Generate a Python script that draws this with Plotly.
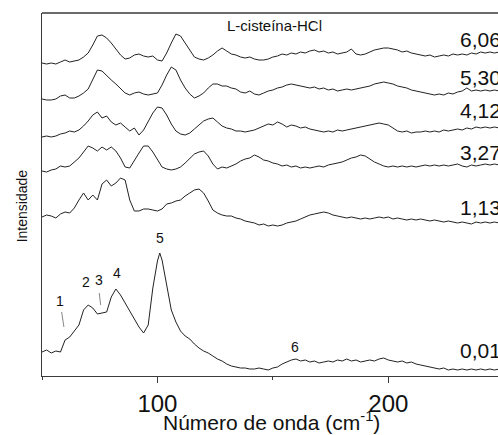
import plotly.graph_objects as go

# Raman shift grid (cm^-1), shared by all spectra
wavenumber = list(range(50, 250, 2))

# Pressure labels (GPa) of each stacked spectrum, top to bottom
pressures = ["6,06", "5,30", "4,12", "3,27", "1,13", "0,01"]
# Vertical offset used to stack the spectra (a.u.)
stack_offset = [312, 276, 239, 204, 150, 6]

int_606 = [1, 0, 1, 0, 2, 4, 2, 3, 4, 7,
           11, 19, 28, 29, 26, 21, 15, 9, 5, 6,
           9, 10, 8, 7, 8, 4, 3, 11, 21, 30,
           28, 21, 14, 7, 5, 4, 6, 9, 13, 16,
           13, 10, 9, 7, 6, 7, 5, 4, 4, 5,
           7, 8, 10, 9, 11, 10, 12, 11, 13, 14,
           12, 13, 11, 12, 10, 11, 12, 15, 10, 9,
           10, 12, 14, 15, 16, 16, 15, 14, 12, 13,
           11, 10, 9, 8, 9, 7, 8, 9, 8, 10,
           9, 10, 9, 11, 10, 12, 11, 12, 11, 12]

int_530 = [1, 0, 0, 1, 4, 5, 2, 2, 4, 7,
           11, 21, 30, 29, 24, 20, 16, 11, 7, 5,
           7, 8, 6, 5, 6, 7, 15, 25, 33, 30,
           20, 12, 6, 2, 4, 7, 12, 16, 16, 14,
           14, 12, 11, 8, 7, 9, 6, 5, 7, 9,
           10, 12, 13, 15, 16, 15, 14, 13, 12, 13,
           11, 12, 10, 11, 9, 10, 11, 10, 11, 12,
           13, 14, 16, 17, 18, 17, 16, 14, 13, 12,
           10, 9, 8, 7, 6, 5, 6, 5, 7, 6,
           8, 9, 12, 9, 10, 9, 10, 9, 10, 9]

int_412 = [0, 1, 0, 1, 3, 4, 6, 5, 7, 11,
           16, 22, 25, 19, 21, 15, 12, 14, 10, 6,
           9, 2, 7, 15, 24, 30, 29, 22, 13, 6,
           3, 2, 4, 8, 12, 16, 18, 19, 15, 11,
           9, 8, 6, 6, 5, 6, 7, 9, 11, 13,
           12, 15, 13, 10, 12, 11, 9, 10, 8, 7,
           6, 5, 6, 5, 7, 6, 7, 8, 9, 10,
           11, 12, 13, 14, 13, 12, 9, 6, 5, 6,
           4, 5, 5, 6, 5, 6, 5, 7, 6, 7,
           8, 7, 9, 8, 10, 9, 10, 9, 10, 9]

int_327 = [1, 0, 2, 3, 6, 5, 6, 10, 14, 20,
           26, 24, 21, 25, 22, 25, 21, 14, 5, 4,
           12, 19, 26, 26, 20, 12, 5, 3, 2, 3,
           5, 9, 14, 18, 20, 21, 16, 8, 3, 5,
           4, 6, 8, 11, 13, 14, 17, 15, 12, 11,
           9, 8, 6, 7, 5, 6, 4, 5, 4, 5,
           6, 5, 7, 8, 9, 10, 12, 14, 15, 17,
           16, 13, 10, 8, 6, 5, 6, 5, 6, 5,
           6, 5, 6, 7, 6, 7, 6, 7, 6, 7,
           8, 6, 5, 7, 6, 7, 8, 7, 8, 7]

int_113 = [9, 11, 10, 8, 12, 14, 13, 18, 26, 33,
           26, 31, 26, 42, 46, 40, 43, 48, 46, 26,
           15, 15, 17, 17, 16, 15, 17, 22, 23, 25,
           26, 30, 33, 36, 37, 33, 25, 16, 13, 11,
           10, 10, 8, 7, 5, 4, 3, 1, 2, 0,
           1, 0, 1, 3, 4, 5, 7, 9, 11, 12,
           13, 14, 13, 11, 10, 9, 8, 9, 8, 7,
           8, 7, 8, 9, 8, 9, 7, 8, 7, 6,
           7, 6, 7, 6, 5, 6, 5, 4, 5, 4,
           3, 4, 3, 2, 4, 3, 4, 3, 4, 3]

# Ambient-pressure spectrum also carries the apex of band 5 at 101 cm^-1
wn_001 = wavenumber[:26] + [101] + wavenumber[26:]
int_001 = [18, 20, 17, 19, 18, 30, 33, 39, 45, 60,
           65, 62, 56, 57, 58, 73, 81, 75, 67, 58,
           50, 43, 37, 45, 82, 109, 117, 110, 85, 60,
           48, 39, 34, 31, 26, 22, 19, 17, 14, 11,
           9, 6, 4, 3, 2, 2, 1, 1, 2, 1,
           0, 2, 3, 6, 8, 10, 11, 9, 10, 8,
           9, 7, 8, 9, 8, 10, 9, 11, 9, 10,
           8, 9, 10, 9, 11, 12, 10, 9, 8, 9,
           7, 8, 6, 5, 4, 3, 2, 1, 2, 0,
           1, 0, 1, 0, 1, 0, 1, 0, 1, 0, 1]

spectra_x = [wavenumber, wavenumber, wavenumber, wavenumber, wavenumber, wn_001]
spectra_y = [int_606, int_530, int_412, int_327, int_113, int_001]

# Band numbering on the 0,01 GPa spectrum
band_labels = ["1", "2", "3", "4", "5", "6"]
band_pos = [57.8, 68.9, 74.7, 82.6, 101.1, 159.4]

FONT = "Arial, Liberation Sans, sans-serif"
LINE = "#222222"
AXIS = "#3a3a3a"

fig = go.Figure()
for xs, ys, off in zip(spectra_x, spectra_y, stack_offset):
    fig.add_trace(go.Scatter(
        x=xs, y=[v + off for v in ys], mode="lines",
        line=dict(color=LINE, width=1), showlegend=False, hoverinfo="skip"))

annotations = []
# pressure labels at the right end of each spectrum
label_y = [337, 298.5, 265.5, 223.5, 168.5, 25.5]
for txt, yy in zip(pressures, label_y):
    annotations.append(dict(x=230.0, y=yy, xref="x", yref="y", text=txt,
                            showarrow=False, xanchor="left", yanchor="middle",
                            font=dict(family=FONT, size=21, color="#111")))

band_y = [75, 94.3, 96, 102.7, 137.7, 29.3]
for txt, xx, yy in zip(band_labels, band_pos, band_y):
    annotations.append(dict(x=xx, y=yy, xref="x", yref="y", text=txt,
                            showarrow=False, xanchor="center", yanchor="middle",
                            font=dict(family=FONT, size=14, color="#111")))

annotations.append(dict(x=150.9, y=351, xref="x", yref="y", text="L-cisteína-HCl",
                        showarrow=False, xanchor="center", yanchor="middle",
                        font=dict(family=FONT, size=15, color="#111")))
annotations.append(dict(x=0.504, y=-0.125, xref="paper", yref="paper",
                        text="Número de onda (cm<sup>-1</sup>)",
                        showarrow=False, xanchor="center", yanchor="middle",
                        font=dict(family=FONT, size=21, color="#111")))
annotations.append(dict(x=-0.044, y=0.47, xref="paper", yref="paper",
                        text="Intensidade", textangle=-90,
                        showarrow=False, xanchor="center", yanchor="middle",
                        font=dict(family=FONT, size=14, color="#111")))

shapes = [
    # frame top edge
    dict(type="line", xref="paper", yref="paper", x0=0, x1=1, y0=1, y1=1,
         line=dict(color=AXIS, width=1.3)),
    # leader lines for bands 1 and 3
    dict(type="line", xref="x", yref="y", x0=58.5, y0=64, x1=59.5, y1=49,
         line=dict(color="#888", width=1)),
    dict(type="line", xref="x", yref="y", x0=74.8, y0=83, x1=75.4, y1=71,
         line=dict(color="#888", width=1)),
]

fig.update_layout(
    width=498, height=435,
    margin=dict(l=42, r=0, t=13, b=58.5),
    paper_bgcolor="white", plot_bgcolor="white",
    annotations=annotations, shapes=shapes,
    xaxis=dict(range=[50, 247.5], showgrid=False, zeroline=False,
               showline=True, linecolor=AXIS, linewidth=1.3,
               tick0=0, dtick=100, ticks="outside", ticklen=6, tickwidth=1.3,
               tickcolor=AXIS,
               tickfont=dict(family=FONT, size=24, color="#111"),
               minor=dict(tick0=0, dtick=50, ticks="outside", ticklen=3,
                          tickwidth=1.3, tickcolor=AXIS)),
    yaxis=dict(range=[0, 363], showgrid=False, zeroline=False,
               showline=True, linecolor=AXIS, linewidth=1.3,
               showticklabels=False, ticks=""),
)

fig.write_html("out.html")
